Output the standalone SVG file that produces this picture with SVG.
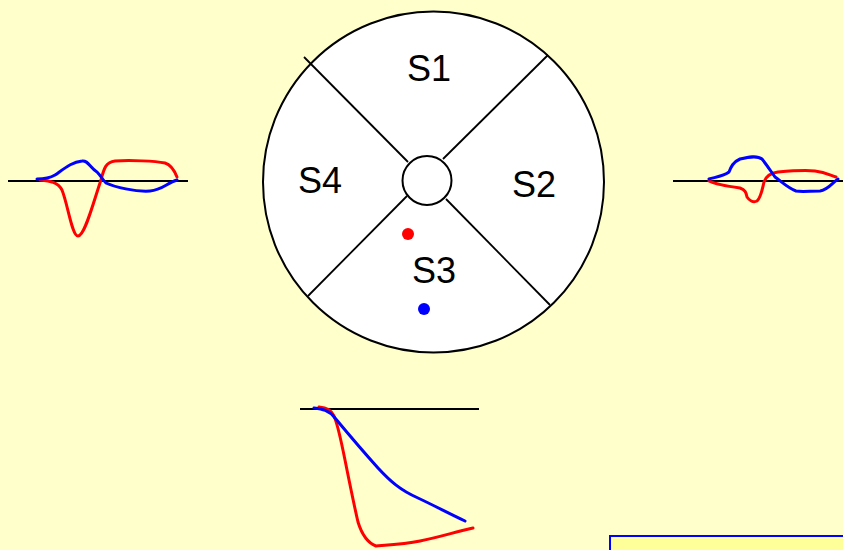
<svg xmlns="http://www.w3.org/2000/svg" width="843" height="550" viewBox="0 0 843 550">
<style>
.ax{stroke:#000;stroke-width:2;fill:none}
.w{fill:none;stroke-width:3;stroke-linecap:round;stroke-linejoin:round}
.r{stroke:#ff0000}
.b{stroke:#0000ff}
.ln{stroke:#000;stroke-width:1.8;fill:none}
.lbl{font-family:"Liberation Sans",Arial,sans-serif;font-size:36px;fill:#000;text-anchor:middle}
</style>
<rect x="0" y="0" width="843" height="550" fill="#ffffcc"/>
<g id="wheel">
<circle cx="433.5" cy="182" r="170.5" fill="#ffffff" stroke="#000" stroke-width="2"/>
<line class="ln" x1="304" y1="57" x2="408" y2="162"/>
<line class="ln" x1="548" y1="55" x2="443" y2="159"/>
<line class="ln" x1="407" y1="196" x2="308" y2="296"/>
<line class="ln" x1="446" y1="199" x2="550" y2="305"/>
<circle cx="427" cy="180.5" r="24.5" fill="#ffffff" stroke="#000" stroke-width="2"/>
</g>
<g id="s1"><text class="lbl" x="429" y="81">S1</text></g>
<g id="s2"><text class="lbl" x="534" y="197">S2</text></g>
<g id="s3"><text class="lbl" x="434" y="283">S3</text></g>
<g id="s4"><text class="lbl" x="320" y="193">S4</text></g>
<g id="dots">
<circle cx="408" cy="234" r="6" fill="#ff0000"/>
<circle cx="424" cy="309" r="6" fill="#0000ff"/>
</g>
<g id="wave-left">
<line class="ax" x1="8" y1="181" x2="188" y2="181"/>
<path class="w r" d="M40,180 C50,181 58,182 62,190 C68,205 72,236 78,236 C85,236 94,200 101,180 C104,168 106,162 115,161 C130,160 155,161 165,163 C172,165 175,172 177,177"/>
<path class="w b" d="M37,179 C45,179 50,178 55,175 C65,168 72,162 82,161 C88,160 90,168 97,172 C101,176 102,179 106,183 C115,187 135,192 150,191 C162,190 167,183 177,180"/>
</g>
<g id="wave-right">
<line class="ax" x1="673" y1="181" x2="843" y2="181"/>
<path class="w r" d="M709,181 C715,184 725,186 740,188 C746,190 746,193 747,197 C749,200 753,203 757,201 C761,198 762,190 764,182 C766,176 770,173 778,172 C790,171 805,170 815,171 C825,172 830,175 836,177"/>
<path class="w b" d="M709,179 C716,177 724,176 729,172 C731,167 733,162 740,159 C748,157 757,155 762,159 C766,164 770,170 775,177 C782,182 788,188 796,191 C802,192 810,191 820,191 C828,190 832,183 838,179"/>
</g>
<g id="wave-bottom">
<line class="ax" x1="300" y1="409" x2="479" y2="409"/>
<path class="w r" d="M319,407 C327,408 331,410 334,416 C338,425 341,440 345,460 C349,480 354,505 358,522 C362,535 368,543 376,546 C388,545 405,544 420,541 C440,537 455,532 473,528"/>
<path class="w b" d="M314,408 C322,409 329,410 335,418 C345,430 360,448 378,468 C390,481 400,490 418,498 C435,506 450,514 465,521"/>
</g>
<g id="box">
<rect x="610" y="536" width="240" height="30" fill="#ffff99" stroke="#0000ff" stroke-width="2"/>
</g>
</svg>
